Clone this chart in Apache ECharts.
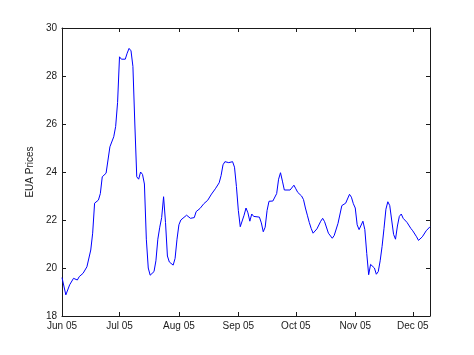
<!DOCTYPE html>
<html>
<head>
<meta charset="utf-8">
<script src="https://cdn.jsdelivr.net/npm/echarts@6/dist/echarts.min.js"></script>
<style>html,body{margin:0;padding:0;background:#fff}#c{width:474px;height:355px}</style>
</head>
<body>
<div id="c"></div>
<script>
var dates = [
 '2005-06-01','2005-06-03','2005-06-05','2005-06-07','2005-06-09','2005-06-10','2005-06-12','2005-06-14','2005-06-16','2005-06-17',
 '2005-06-18','2005-06-19','2005-06-20','2005-06-21','2005-06-22','2005-06-23','2005-06-24','2005-06-26','2005-06-28','2005-06-29',
 '2005-06-30','2005-07-01','2005-07-02','2005-07-04','2005-07-05','2005-07-06','2005-07-07','2005-07-08','2005-07-09','2005-07-10',
 '2005-07-11','2005-07-12','2005-07-13','2005-07-14','2005-07-15','2005-07-16','2005-07-17','2005-07-18','2005-07-19','2005-07-20',
 '2005-07-21','2005-07-22','2005-07-23','2005-07-24','2005-07-25','2005-07-26','2005-07-27','2005-07-28','2005-07-29','2005-07-30',
 '2005-07-31','2005-08-01','2005-08-02','2005-08-03','2005-08-05','2005-08-06','2005-08-07','2005-08-09','2005-08-10','2005-08-12',
 '2005-08-14','2005-08-16','2005-08-18','2005-08-20','2005-08-22','2005-08-23','2005-08-24','2005-08-25','2005-08-27','2005-08-29',
 '2005-08-30','2005-08-31','2005-09-01','2005-09-02','2005-09-03','2005-09-04','2005-09-05','2005-09-06','2005-09-07','2005-09-08',
 '2005-09-09','2005-09-10','2005-09-12','2005-09-13','2005-09-14','2005-09-15','2005-09-16','2005-09-17','2005-09-19','2005-09-20',
 '2005-09-21','2005-09-22','2005-09-23','2005-09-24','2005-09-25','2005-09-26','2005-09-28','2005-09-29','2005-09-30','2005-10-01',
 '2005-10-02','2005-10-03','2005-10-04','2005-10-05','2005-10-06','2005-10-07','2005-10-08','2005-10-09','2005-10-10','2005-10-11',
 '2005-10-12','2005-10-14','2005-10-15','2005-10-16','2005-10-18','2005-10-20','2005-10-21','2005-10-23','2005-10-25','2005-10-27',
 '2005-10-28','2005-10-29','2005-10-30','2005-10-31','2005-11-01','2005-11-02','2005-11-03','2005-11-04','2005-11-05','2005-11-06',
 '2005-11-07','2005-11-08','2005-11-09','2005-11-10','2005-11-11','2005-11-12','2005-11-13','2005-11-14','2005-11-15','2005-11-16',
 '2005-11-17','2005-11-18','2005-11-19','2005-11-20','2005-11-21','2005-11-22','2005-11-23','2005-11-24','2005-11-25','2005-11-26',
 '2005-11-28','2005-11-30','2005-12-01','2005-12-03','2005-12-04','2005-12-05','2005-12-06','2005-12-08','2005-12-10'
];
var prices = [
 19.6,18.88,19.3,19.57,19.5,19.64,19.78,20.05,20.75,21.45,
 22.7,22.65,22.83,23.1,23.8,23.75,23.95,25.05,25.47,25.9,
 26.9,28.8,28.7,28.7,28.95,29.15,29.05,28.4,26.0,23.8,
 23.7,24.0,23.9,23.5,21.2,20.0,19.7,19.64,19.85,20.3,
 21.2,21.7,22.1,22.97,21.9,20.5,20.25,20.2,20.12,20.4,
 21.2,21.8,22.0,22.07,22.2,22.28,22.07,22.1,22.35,22.48,
 22.68,22.82,23.08,23.3,23.55,23.85,24.3,24.43,24.39,24.43,
 24.2,23.4,22.4,21.72,21.65,22.2,22.5,22.3,21.95,22.25,
 22.15,22.08,22.12,21.88,21.51,21.7,22.4,22.78,22.79,22.83,
 23.1,23.7,23.97,23.62,23.25,23.18,23.25,23.32,23.45,23.3,
 23.15,23.1,23.0,22.85,22.5,22.2,21.9,21.65,21.45,21.5,
 21.63,21.95,22.07,21.93,21.45,21.24,21.35,21.86,22.6,22.7,
 22.7,23.07,22.95,22.68,22.5,21.8,21.6,21.65,21.95,21.6,
 20.6,19.72,20.15,20.15,20.0,19.74,19.85,20.3,20.9,21.65,
 22.45,22.76,22.6,22.0,21.4,21.2,21.75,22.15,22.25,22.07,
 21.9,21.65,21.55,21.3,21.15,21.13,21.3,21.55,21.72
];
var monthTicks = ['2005-06-01','2005-07-01','2005-08-01','2005-09-01','2005-10-01','2005-11-01','2005-12-01'];
var monthLabels = ['Jun 05','Jul 05','Aug 05','Sep 05','Oct 05','Nov 05','Dec 05'];
var xStart = '2005-06-01';
var xEnd = '2005-12-10';
var yTicks = [18, 20, 22, 24, 26, 28, 30];

function ts(s) { return Date.UTC(+s.slice(0, 4), +s.slice(5, 7) - 1, +s.slice(8, 10)); }
var tickTs = monthTicks.map(ts);
var seriesData = dates.map(function (d, i) { return [ts(d), prices[i]]; });

var axisColor = '#1a1a1a';
var labelStyle = { color: '#1a1a1a', fontFamily: 'Liberation Sans, Arial, sans-serif', fontSize: 10 };

var chart = echarts.init(document.getElementById('c'), null, { renderer: 'canvas' });
chart.setOption({
  animation: false,
  backgroundColor: '#ffffff',
  grid: { left: 62, top: 28, right: 44, bottom: 39, show: false },
  xAxis: [{
    type: 'value', min: ts(xStart), max: ts(xEnd), position: 'bottom', scale: true,
    axisLine: { show: true, onZero: false, lineStyle: { color: axisColor, width: 1 } },
    axisTick: { show: true, inside: true, length: 4, customValues: tickTs, lineStyle: { color: axisColor } },
    axisLabel: Object.assign({ show: true, margin: 5, customValues: tickTs, hideOverlap: false,
      formatter: function (v) { var i = tickTs.indexOf(v); return i >= 0 ? monthLabels[i] : ''; } }, labelStyle),
    splitLine: { show: false }
  }, {
    type: 'value', min: ts(xStart), max: ts(xEnd), position: 'top', scale: true,
    axisLine: { show: true, onZero: false, lineStyle: { color: axisColor, width: 1 } },
    axisTick: { show: true, inside: true, length: 4, customValues: tickTs, lineStyle: { color: axisColor } },
    axisLabel: { show: false },
    splitLine: { show: false }
  }],
  yAxis: [{
    type: 'value', min: yTicks[0], max: yTicks[yTicks.length - 1], interval: 2, position: 'left',
    name: 'EUA Prices', nameLocation: 'middle', nameGap: 24, nameRotate: 90,
    nameTextStyle: { color: '#1a1a1a', fontFamily: 'Liberation Sans, Arial, sans-serif', fontSize: 10 },
    axisLine: { show: true, onZero: false, lineStyle: { color: axisColor, width: 1 } },
    axisTick: { show: true, inside: true, length: 4, lineStyle: { color: axisColor } },
    axisLabel: Object.assign({ margin: 5 }, labelStyle),
    splitLine: { show: false }
  }, {
    type: 'value', min: yTicks[0], max: yTicks[yTicks.length - 1], interval: 2, position: 'right',
    axisLine: { show: true, onZero: false, lineStyle: { color: axisColor, width: 1 } },
    axisTick: { show: true, inside: true, length: 4, lineStyle: { color: axisColor } },
    axisLabel: { show: false },
    splitLine: { show: false }
  }],
  series: [{
    type: 'line', xAxisIndex: 0, yAxisIndex: 0, data: seriesData,
    showSymbol: false, symbol: 'none',
    lineStyle: { color: '#0000ff', width: 1 },
    itemStyle: { color: '#0000ff' }
  }]
});
</script>
</body>
</html>
